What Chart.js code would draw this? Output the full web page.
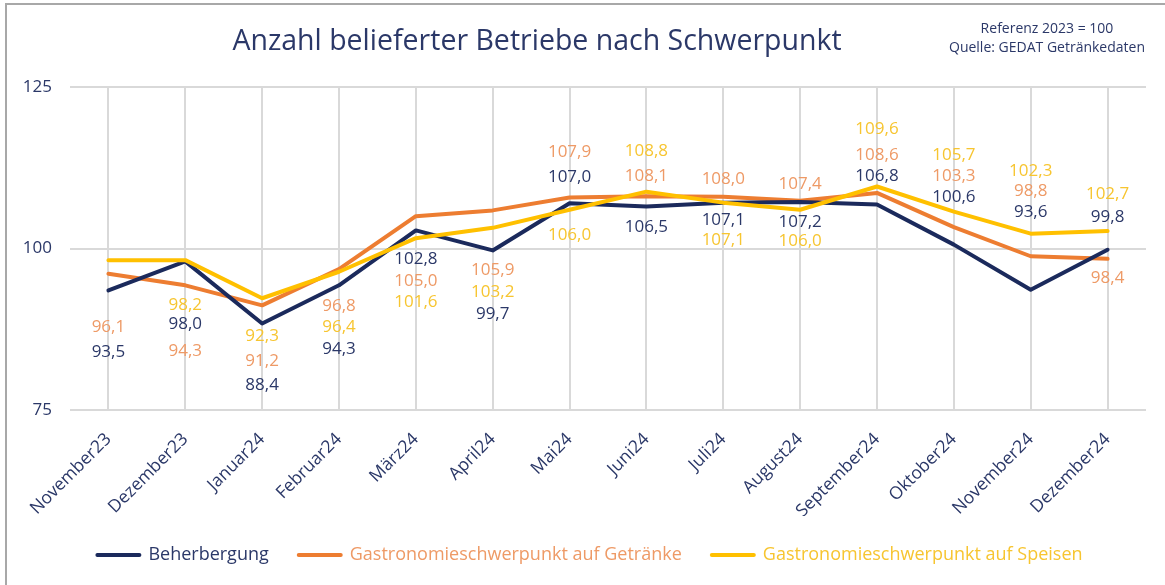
<!DOCTYPE html>
<html>
<head>
<meta charset="utf-8">
<title>Anzahl belieferter Betriebe nach Schwerpunkt</title>
<script src="https://cdn.jsdelivr.net/npm/chart.js@4.4.1/dist/chart.umd.min.js"></script>
<style>
    html, body { margin: 0; padding: 0; background: #fff; }
    #wrap { position: relative; width: 1165px; height: 585px; overflow: hidden; }
    #frame { position: absolute; left: 5px; top: 3px; width: 1200px; height: 640px;
             border-left: 2px solid #a8a8a8; border-top: 2px solid #a8a8a8; }
    #chart { position: absolute; left: 0; top: 0; }
</style>
</head>
<body>
<div id="wrap">
    <div id="frame"></div>
    <canvas id="chart" width="1165" height="585"></canvas>
</div>
<script>
const months = ["November23", "Dezember23", "Januar24", "Februar24", "März24", "April24", "Mai24",
    "Juni24", "Juli24", "August24", "September24", "Oktober24", "November24", "Dezember24"];

const beherbergung = [93.5, 98.0, 88.4, 94.3, 102.8, 99.7, 107.0, 106.5, 107.1, 107.2, 106.8, 100.6, 93.6, 99.8];
const getraenke = [96.1, 94.3, 91.2, 96.8, 105.0, 105.9, 107.9, 108.1, 108.0, 107.4, 108.6, 103.3, 98.8, 98.4];
const speisen = [98.2, 98.2, 92.3, 96.4, 101.6, 103.2, 106.0, 108.8, 107.1, 106.0, 109.6, 105.7, 102.3, 102.7];

const yTicks = [75, 100, 125];

// which values carry a printed label (first yellow point has none)
const speisenShowLabel = [false, true, true, true, true, true, true, true, true, true, true, true, true, true];

// vertical shift of each value label from its point, in px
const dyBeherbergung = [62, 63, 62, 64, 29, 64, -26, 21, 18, 20, -28, -47, -78, -33];
const dyGetraenke = [53, 66, 56, 37, 65, 60, -45, -20, -18, -17, -38, -51, -65, 19];
const dySpeisen = [0, 45, 38, 55, 64, 64, 25, -40, 38, 31, -57, -57, -62, -37];

const NAVY = "#1b2a5c";
const ORANGE = "#ed7d31";
const YELLOW = "#ffc000";
const textNavy = "#2b3868";
const labelColors = ["#2b3868", "#ee9a66", "#f7c530"];
const FONT = "'Open Sans', 'Noto Sans', sans-serif";

const valueLabels = {
    id: "valueLabels",
    afterDatasetsDraw(chart) {
        const ctx = chart.ctx;
        const offsets = [dyBeherbergung, dyGetraenke, dySpeisen];
        ctx.save();
        ctx.font = "17px " + FONT;
        ctx.textAlign = "center";
        ctx.textBaseline = "middle";
        chart.data.datasets.forEach((ds, i) => {
            const meta = chart.getDatasetMeta(i);
            meta.data.forEach((pt, j) => {
                if (i === 2 && !speisenShowLabel[j]) return;
                ctx.fillStyle = labelColors[i];
                ctx.fillText(ds.data[j].toFixed(1).replace(".", ","), pt.x, pt.y + offsets[i][j]);
            });
        });
        ctx.restore();
    }
};

const headerTexts = {
    id: "headerTexts",
    afterDraw(chart) {
        const ctx = chart.ctx;
        ctx.save();
        ctx.fillStyle = textNavy;
        ctx.textAlign = "center";
        ctx.textBaseline = "middle";
        ctx.font = "28.5px " + FONT;
        ctx.fillText("Anzahl belieferter Betriebe nach Schwerpunkt", 537, 42);
        ctx.font = "14px " + FONT;
        ctx.fillText("Referenz 2023 = 100", 1047, 29);
        ctx.fillText("Quelle: GEDAT Getränkedaten", 1047, 48);
        ctx.restore();
    }
};

// legend in the original sits a bit right of the canvas centre
const legendShift = {
    id: "legendShift",
    afterLayout(chart) {
        if (chart.legend) chart.legend.left += 34;
    }
};

new Chart(document.getElementById("chart"), {
    type: "line",
    data: {
        labels: months,
        datasets: [
            { label: "Beherbergung", data: beherbergung, borderColor: NAVY, backgroundColor: NAVY, order: 1 },
            { label: "Gastronomieschwerpunkt auf Getränke", data: getraenke, borderColor: ORANGE, backgroundColor: ORANGE, order: 2 },
            { label: "Gastronomieschwerpunkt auf Speisen", data: speisen, borderColor: YELLOW, backgroundColor: YELLOW, order: 0 }
        ]
    },
    options: {
        responsive: false,
        animation: false,
        layout: { padding: { left: 0, right: 19, top: 87, bottom: 11 } },
        elements: {
            line: { borderWidth: 4, tension: 0, borderCapStyle: "round", borderJoinStyle: "round" },
            point: { radius: 0, hoverRadius: 0 }
        },
        plugins: {
            title: { display: false },
            tooltip: { enabled: false },
            legend: {
                position: "bottom",
                labels: {
                    usePointStyle: true,
                    pointStyleWidth: 42,
                    padding: 30,
                    font: { family: FONT, size: 18 },
                    generateLabels: chart => chart.data.datasets.map((ds, i) => ({
                        text: ds.label,
                        fillStyle: ds.borderColor,
                        strokeStyle: ds.borderColor,
                        lineWidth: 4,
                        lineCap: "round",
                        pointStyle: "line",
                        fontColor: labelColors[i],
                        hidden: false,
                        datasetIndex: i
                    }))
                }
            }
        },
        scales: {
            x: {
                offset: true,
                grid: { color: "#d9d9d9", lineWidth: 2, drawTicks: false },
                border: { display: false },
                ticks: {
                    minRotation: 45,
                    maxRotation: 45,
                    padding: 19,
                    color: textNavy,
                    font: { family: FONT, size: 17.5 }
                },
                afterFit: s => { s.height = 106; }
            },
            y: {
                min: 75,
                max: 125,
                afterBuildTicks: s => { s.ticks = yTicks.map(v => ({ value: v })); },
                grid: { color: "#d9d9d9", lineWidth: 2, drawTicks: false },
                border: { display: false },
                ticks: {
                    padding: 18,
                    color: textNavy,
                    font: { family: FONT, size: 17 }
                },
                afterFit: s => { s.width = 70; }
            }
        }
    },
    plugins: [valueLabels, headerTexts, legendShift]
});
</script>
</body>
</html>
